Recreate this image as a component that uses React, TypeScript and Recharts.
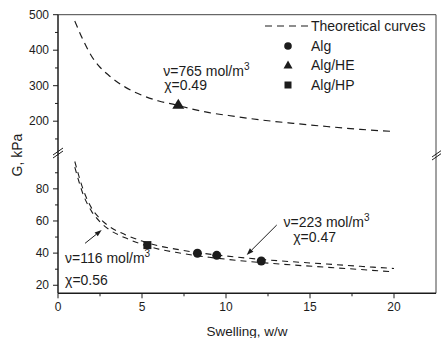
import React from 'react'
import { ComposedChart, Line, Scatter, XAxis, YAxis, ReferenceLine, ReferenceDot, Legend } from 'recharts'

const FONT = '"Liberation Sans", Arial, Helvetica, sans-serif'
const INK = '#1c1c1c'

// theoretical curve of the upper panel (nu=765 mol/m3, chi=0.49)
const swellHigh = [1, 1.5, 2, 2.5, 3, 4, 5, 6, 7, 8, 9, 10, 12, 14, 16, 18, 20]
const gHigh = [482, 428, 383, 352, 330, 296, 273, 257, 246, 234, 224, 217, 204, 194, 185, 177, 171]

// the two theoretical curves of the lower panel
const swellLow = [1, 1.5, 2, 2.5, 3, 4, 5, 6, 7, 8, 9, 10, 12, 14, 16, 18, 20]
const gLow116 = [97, 79.5, 68, 61.5, 57, 51.5, 47.5, 44.5, 42.5, 40.8, 39.4, 38.2, 36.2, 34.6, 33.2, 31.8, 30.4]
const gLow223 = [93.5, 76.5, 66, 59.5, 55, 49.5, 45.5, 42.5, 40.5, 38.8, 37.4, 36.2, 34.2, 32.6, 31.2, 29.8, 28.3]

// measured samples
const algX = [8.3, 9.45, 12.1]
const algG = [39.9, 38.6, 35.1]
const algHeX = [7.16]
const algHeG = [248]
const algHpX = [5.32]
const algHpG = [45]

// ticks
const xTicks = [0, 2.5, 5, 7.5, 10, 12.5, 15, 17.5, 20]
const xMajor = [0, 5, 10, 15, 20]
const yTicksHigh = [150, 200, 250, 300, 350, 400, 450, 500]
const yTicksLow = [20, 30, 40, 50, 60, 70, 80, 90]
const yMajor = [20, 40, 60, 80, 200, 300, 400, 500]

const toRows = (xs: number[], gs: number[]) => xs.map((x, i) => ({ x, g: gs[i] }))
const highCurve = toRows(swellHigh, gHigh)
const curve116 = toRows(swellLow, gLow116)
const curve223 = toRows(swellLow, gLow223)
const algRows = toRows(algX, algG)
const algHeRows = toRows(algHeX, algHeG)
const algHpRows = toRows(algHpX, algHpG)

const YTick = (props: any) => {
  const { x, y, payload } = props
  const major = yMajor.includes(payload.value)
  return (
    <g>
      <line x1={x - (major ? 5 : 3)} x2={x} y1={y} y2={y} stroke={INK} strokeWidth={1} />
      {major && (
        <text x={x - 9} y={y} dy="0.35em" textAnchor="end" fontSize={12} fill={INK} fontFamily={FONT}>
          {payload.value}
        </text>
      )}
    </g>
  )
}

const XTick = (props: any) => {
  const { x, y, payload } = props
  const major = xMajor.includes(payload.value)
  return (
    <g>
      <line x1={x} x2={x} y1={y} y2={y + (major ? 5 : 3)} stroke={INK} strokeWidth={1} />
      {major && (
        <text x={x} y={y + 18} textAnchor="middle" fontSize={12} fill={INK} fontFamily={FONT}>
          {payload.value}
        </text>
      )}
    </g>
  )
}

const CircleMark = (p: any) => <circle cx={p.cx} cy={p.cy} r={4.5} fill={INK} />
const SquareMark = (p: any) => <rect x={p.cx - 4} y={p.cy - 4} width={8} height={8} fill={INK} />
const TriangleMark = (p: any) => (
  <polygon points={`${p.cx},${p.cy - 5.5} ${p.cx + 6},${p.cy + 4.5} ${p.cx - 6},${p.cy + 4.5}`} fill={INK} />
)

const Arrow = (p: any) => {
  const { x1, y1, x2, y2 } = p
  const a = Math.atan2(y2 - y1, x2 - x1)
  const bx = x2 - 7 * Math.cos(a)
  const by = y2 - 7 * Math.sin(a)
  const w = 2.5
  const pts = `${x2},${y2} ${bx + w * Math.sin(a)},${by - w * Math.cos(a)} ${bx - w * Math.sin(a)},${by + w * Math.cos(a)}`
  return (
    <g>
      <line x1={x1} y1={y1} x2={bx} y2={by} stroke={INK} strokeWidth={1} />
      <polygon points={pts} fill={INK} />
    </g>
  )
}

const note = (text: string, sup?: string) => (p: any) => (
  <text x={p.cx} y={p.cy} fontSize={14} fill={INK} fontFamily={FONT}>
    {text}
    {sup && <tspan fontSize={10} dy={-6}>{sup}</tspan>}
  </text>
)

const legendItems = [
  { name: 'Theoretical curves', kind: 'dash' },
  { name: 'Alg', kind: 'circle' },
  { name: 'Alg/HE', kind: 'triangle' },
  { name: 'Alg/HP', kind: 'square' },
]

const LegendBox = () => (
  <div style={{ fontFamily: FONT, fontSize: 14, color: INK }}>
    {legendItems.map(item => (
      <div key={item.name} style={{ display: 'flex', alignItems: 'center', height: 19.5 }}>
        <svg width={48} height={19.5}>
          {item.kind === 'dash' && <line x1={2} x2={45} y1={10} y2={10} stroke={INK} strokeWidth={1.2} strokeDasharray="7 5" />}
          {item.kind === 'circle' && <circle cx={25} cy={10} r={3.8} fill={INK} />}
          {item.kind === 'triangle' && <polygon points="25,5.5 29.5,13.5 20.5,13.5" fill={INK} />}
          {item.kind === 'square' && <rect x={21.5} y={6.5} width={7} height={7} fill={INK} />}
        </svg>
        <span>{item.name}</span>
      </div>
    ))}
  </div>
)

export default function App() {
  return (
    <div style={{ position: 'absolute', left: 0, top: 0, width: 441, height: 338, background: '#fff' }}>
      <div style={{ position: 'absolute', left: 0, top: 0 }}>
        <ComposedChart width={441} height={160} margin={{ top: 14.7, right: 5, bottom: 3.3, left: 0 }}>
          <XAxis dataKey="x" type="number" domain={[0, 22.5]} hide allowDataOverflow />
          <YAxis
            dataKey="g"
            type="number"
            domain={[100, 500]}
            ticks={yTicksHigh}
            interval={0}
            width={58}
            tickSize={0}
            tickMargin={0}
            tickLine={false}
            tick={<YTick />}
            axisLine={{ stroke: INK, strokeWidth: 1.5 }}
            allowDataOverflow
          />
          <ReferenceLine y={500} stroke="#444" strokeWidth={1} />
          <ReferenceLine x={22.5} stroke="#444" strokeWidth={1} />
          <Line data={highCurve} dataKey="g" type="monotone" stroke={INK} strokeWidth={1.2} strokeDasharray="7 5" dot={false} isAnimationActive={false} />
          <Scatter data={algHeRows} dataKey="g" shape={TriangleMark} isAnimationActive={false} />
          <ReferenceDot x={6.27} y={328.7} r={1} shape={note('ν=765 mol/m', '3')} />
          <ReferenceDot x={6.32} y={288} r={1} shape={note('χ=0.49')} />
          <Legend layout="vertical" align="center" verticalAlign="middle" wrapperStyle={{ top: 16.3, left: 263, width: 175 }} content={<LegendBox />} />
        </ComposedChart>
      </div>
      <div style={{ position: 'absolute', left: 0, top: 150 }}>
        <ComposedChart width={441} height={188} margin={{ top: 6.7, right: 5, bottom: 0, left: 0 }}>
          <XAxis
            dataKey="x"
            type="number"
            domain={[0, 22.5]}
            ticks={xTicks}
            interval={0}
            height={44.7}
            tickSize={0}
            tickMargin={0}
            tickLine={false}
            tick={<XTick />}
            axisLine={{ stroke: INK, strokeWidth: 1.5 }}
            allowDataOverflow
            label={{ value: 'Swelling, w/w', position: 'insideBottom', offset: 2.5, fill: INK, fontSize: 13.5, fontFamily: FONT }}
          />
          <YAxis
            dataKey="g"
            type="number"
            domain={[15, 100]}
            ticks={yTicksLow}
            interval={0}
            width={58}
            tickSize={0}
            tickMargin={0}
            tickLine={false}
            tick={<YTick />}
            axisLine={{ stroke: INK, strokeWidth: 1.5 }}
            allowDataOverflow
          />
          <ReferenceLine x={22.5} stroke="#444" strokeWidth={1} />
          <Line data={curve116} dataKey="g" type="monotone" stroke={INK} strokeWidth={1.1} strokeDasharray="6 5" dot={false} isAnimationActive={false} />
          <Line data={curve223} dataKey="g" type="monotone" stroke={INK} strokeWidth={1.1} strokeDasharray="6 5" dot={false} isAnimationActive={false} />
          <Scatter data={algRows} dataKey="g" shape={CircleMark} isAnimationActive={false} />
          <Scatter data={algHpRows} dataKey="g" shape={SquareMark} isAnimationActive={false} />
          <ReferenceLine segment={[{ x: 1.61, y: 46.1 }, { x: 2.6, y: 54.4 }]} shape={Arrow} />
          <ReferenceLine segment={[{ x: 13.02, y: 57.5 }, { x: 11.23, y: 38.8 }]} shape={Arrow} />
          <ReferenceDot x={0.42} y={33.7} r={1} shape={note('ν=116 mol/m', '3')} />
          <ReferenceDot x={0.42} y={20.2} r={1} shape={note('χ=0.56')} />
          <ReferenceDot x={13.42} y={56.4} r={1} shape={note('ν=223 mol/m', '3')} />
          <ReferenceDot x={14.0} y={47.1} r={1} shape={note('χ=0.47')} />
        </ComposedChart>
      </div>
      <svg width={441} height={338} style={{ position: 'absolute', left: 0, top: 0, pointerEvents: 'none' }}>
        <text transform="translate(22,155) rotate(-90)" textAnchor="middle" fontSize={14} fill={INK} fontFamily={FONT}>
          G, kPa
        </text>
        <line x1={53} y1={158} x2={63} y2={151} stroke={INK} strokeWidth={1} />
        <line x1={53} y1={155} x2={63} y2={148} stroke={INK} strokeWidth={1} />
        <line x1={432} y1={160} x2={442} y2={153} stroke={INK} strokeWidth={1} />
        <line x1={432} y1={157} x2={442} y2={150} stroke={INK} strokeWidth={1} />
      </svg>
    </div>
  )
}
